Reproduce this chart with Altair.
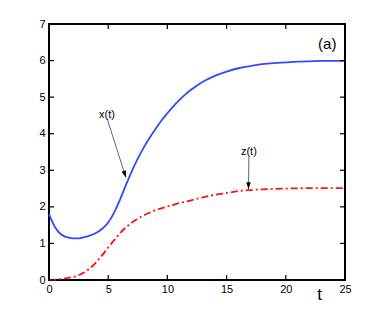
import altair as alt
import pandas as pd

# ---- data ----
t_x = [0, 0.5, 1, 1.5, 2, 2.5, 3, 3.5, 4, 4.5, 5, 5.5, 6, 6.5, 7, 7.5, 8, 8.5, 9, 9.5,
       10, 10.5, 11, 11.5, 12, 13, 14, 15, 16, 17, 18, 19, 20, 21, 22, 23, 24, 25]
x_vals = [1.80, 1.45, 1.25, 1.17, 1.14, 1.14, 1.17, 1.22, 1.29, 1.40, 1.57, 1.84, 2.20, 2.60,
          2.98, 3.32, 3.62, 3.89, 4.13, 4.36, 4.56, 4.75, 4.92, 5.07, 5.20, 5.42, 5.58, 5.70,
          5.79, 5.85, 5.90, 5.93, 5.95, 5.97, 5.98, 5.99, 5.99, 6.00]

t_z = [0, 0.5, 1, 1.5, 2, 2.5, 3, 3.5, 4, 4.5, 5, 5.5, 6, 6.5, 7, 7.5, 8, 8.5, 9, 9.5,
       10, 11, 12, 13, 14, 15, 16, 17, 18, 19, 20, 22, 25]
z_vals = [0.00, 0.01, 0.03, 0.05, 0.08, 0.13, 0.21, 0.33, 0.49, 0.68, 0.89, 1.09, 1.28, 1.44,
          1.57, 1.68, 1.77, 1.84, 1.91, 1.96, 2.01, 2.10, 2.18, 2.26, 2.33, 2.38, 2.43, 2.46,
          2.48, 2.49, 2.50, 2.51, 2.51]

x_ticks = [0, 5, 10, 15, 20, 25]
y_ticks = [0, 1, 2, 3, 4, 5, 6, 7]

# annotation arrows: label position, arrow start, arrow tip
ann_labels = ["x(t)", "z(t)"]
ann_label_t = [4.9, 16.88]
ann_label_v = [4.51, 3.49]
ann_start_t = [4.9, 16.88]
ann_start_v = [4.42, 3.37]
ann_tip_t = [6.5, 16.85]
ann_tip_v = [2.8, 2.48]
ann_angle = [341.5, 0]

panel_label = ["(a)"]
panel_t = [23.5]
panel_v = [6.32]

X_MIN, X_MAX = 0, 25
Y_MIN, Y_MAX = 0, 7
W, H = 296, 256
TICK_PX = 5
TICK_LEN_X = TICK_PX * (X_MAX - X_MIN) / W
TICK_LEN_Y = TICK_PX * (Y_MAX - Y_MIN) / H

xscale = alt.Scale(domain=[X_MIN, X_MAX], nice=False, zero=False)
yscale = alt.Scale(domain=[Y_MIN, Y_MAX], nice=False, zero=False)

ax_x = alt.Axis(
    orient="bottom", values=x_ticks, ticks=False, domain=False, grid=False,
    labelPadding=3, labelFlush=False, labelOverlap=False,
    title="t", titleX=270, titleY=19, titleFontSize=17, titleFontWeight="normal",
    titleBaseline="alphabetic", titleAlign="center")
ax_y = alt.Axis(
    orient="left", values=y_ticks, ticks=False, domain=False, grid=False,
    labelPadding=4, labelFlush=False, labelOverlap=False, title="")

df_x = pd.DataFrame({"t": t_x, "v": x_vals})
df_z = pd.DataFrame({"t": t_z, "v": z_vals})
df_ann = pd.DataFrame({
    "label": ann_labels, "lt": ann_label_t, "lv": ann_label_v,
    "st": ann_start_t, "sv": ann_start_v, "tt": ann_tip_t, "tv": ann_tip_v,
    "ang": ann_angle,
})
df_panel = pd.DataFrame({"label": panel_label, "t": panel_t, "v": panel_v})
df_xt = pd.DataFrame({"t": x_ticks})
df_yt = pd.DataFrame({"v": y_ticks})


def X(field):
    return alt.X(field, type="quantitative", scale=xscale, axis=ax_x)


def Y(field):
    return alt.Y(field, type="quantitative", scale=yscale, axis=ax_y)


line_x = alt.Chart(df_x).mark_line(color="#2f4bff", strokeWidth=1.8, interpolate="monotone").encode(
    x=X("t"), y=Y("v"))

line_z = alt.Chart(df_z).mark_line(color="#ff1010", strokeWidth=1.8, strokeDash=[7, 3, 2, 3],
                                   interpolate="monotone").encode(
    x=X("t"), y=Y("v"))

tick_mark = dict(color="black", strokeWidth=1.2)
ticks_bottom = alt.Chart(df_xt).mark_rule(**tick_mark).encode(
    x=X("t"), y=alt.Y(datum=Y_MIN, axis=ax_y), y2=alt.datum(Y_MIN + TICK_LEN_Y))
ticks_top = alt.Chart(df_xt).mark_rule(**tick_mark).encode(
    x=X("t"), y=alt.Y(datum=Y_MAX, axis=ax_y), y2=alt.datum(Y_MAX - TICK_LEN_Y))
ticks_left = alt.Chart(df_yt).mark_rule(**tick_mark).encode(
    y=Y("v"), x=alt.X(datum=X_MIN, axis=ax_x), x2=alt.datum(X_MIN + TICK_LEN_X))
ticks_right = alt.Chart(df_yt).mark_rule(**tick_mark).encode(
    y=Y("v"), x=alt.X(datum=X_MAX, axis=ax_x), x2=alt.datum(X_MAX - TICK_LEN_X))

arrows = alt.Chart(df_ann).mark_rule(color="#666666", strokeWidth=1).encode(
    x=X("st"), y=Y("sv"), x2="tt:Q", y2="tv:Q",
)

heads = alt.Chart(df_ann).mark_point(
    shape="M-0.32,-1L0.32,-1L0,0Z", filled=True, color="black", size=196, opacity=1, strokeWidth=0
).encode(
    x=X("tt"), y=Y("tv"),
    angle=alt.Angle("ang:Q", scale=None),
)

labels = alt.Chart(df_ann).mark_text(font="Liberation Sans", fontSize=11, color="black",
                                     baseline="middle", align="center").encode(
    x=X("lt"), y=Y("lv"), text="label:N",
)

panel = alt.Chart(df_panel).mark_text(font="Liberation Sans", fontSize=15, color="black",
                                      baseline="alphabetic", align="center").encode(
    x=X("t"), y=Y("v"), text="label:N",
)

chart = alt.layer(
    line_x, line_z, ticks_bottom, ticks_top, ticks_left, ticks_right,
    arrows, heads, labels, panel
).properties(
    width=W, height=H,
    padding={"left": 41, "top": 16, "right": 20, "bottom": 32},
    autosize=alt.AutoSizeParams(type="none"),
).configure_view(
    stroke="black", strokeWidth=2
).configure_axis(
    labelFont="Liberation Sans", labelFontSize=11, labelColor="black",
    titleFont="Liberation Sans", titleColor="black"
)

chart.save("out.html", embed_options={"renderer": "svg", "actions": False})
